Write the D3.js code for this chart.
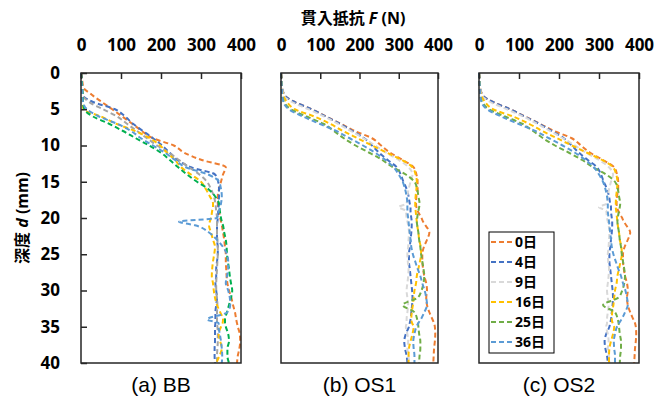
<!DOCTYPE html>
<html>
<head>
<meta charset="utf-8">
<script src="https://cdn.jsdelivr.net/npm/d3@7"></script>
<style>
  body { margin: 0; background: #fff; }
  text { font-family: "Noto Sans", "Noto Sans CJK JP", sans-serif; }
</style>
</head>
<body>
<div id="chart"></div>
<script>
// depth grid (mm), shared by every series
const depth = [0, 1, 2, 3, 4, 5, 6, 7, 8, 9, 10, 11, 12, 13, 14, 15, 16, 17, 18, 18.5, 19, 20, 20.5,
  21, 22, 23, 24, 25, 26, 27, 28, 29, 30, 31, 32, 33, 34, 34.5, 35, 36, 37, 38, 39, 40];

const seriesNames = ["0日", "4日", "9日", "16日", "25日", "36日"];
const fTicks = [0, 100, 200, 300, 400];
const dTicks = [0, 5, 10, 15, 20, 25, 30, 35, 40];

// (a) BB : penetration resistance F (N) at each depth
const bb0 = [0, 3, 6, 27, 52, 78, 103, 128, 152, 180, 232, 258, 302, 362, 355, 350, 345, 342, 342, 343, 345, 348, 350,
  352, 355, 358, 360, 362, 362, 363, 364, 366, 370, 376, 380, 385, 388, 390, 392, 397, 398, 396, 392, 390];
const bb4 = [0, 2, 3, 4, 30, 85, 110, 130, 155, 180, 203, 222, 242, 275, 335, 343, 345, 345, 344, 344, 343, 342, 341,
  340, 340, 340, 342, 342, 340, 338, 338, 336, 338, 340, 338, 336, 336, 336, 335, 335, 335, 334, 334, 335];
const bb9 = [0, 2, 3, 4, 20, 55, 90, 115, 140, 165, 190, 220, 245, 270, 296, 315, 325, 332, 336, 337, 338, 340, 340,
  340, 340, 341, 342, 342, 341, 340, 339, 338, 338, 340, 341, 340, 340, 340, 341, 342, 342, 341, 340, 340];
const bb16 = [0, 1, 2, 3, 4, 6, 50, 88, 135, 172, 198, 215, 235, 250, 275, 300, 312, 322, 330, 330, 328, 325, 322,
  320, 325, 330, 335, 333, 330, 328, 327, 330, 332, 335, 340, 348, 355, 354, 350, 344, 348, 352, 346, 338];
const bb25 = [0, 2, 3, 4, 5, 8, 30, 70, 105, 137, 170, 200, 222, 243, 265, 290, 318, 335, 345, 346, 347, 350, 352,
  355, 358, 362, 364, 365, 367, 370, 372, 375, 378, 375, 370, 365, 360, 360, 362, 368, 370, 366, 366, 370];
const bb36 = [0, 1, 2, 3, 5, 15, 45, 90, 125, 150, 180, 210, 235, 262, 318, 345, 350, 352, 350, 348, 345, 340, 245,
  285, 320, 340, 355, 365, 368, 368, 365, 362, 368, 372, 373, 366, 315, 344, 344, 347, 350, 352, 353, 352];

// (b) OS1 and (c) OS2 : the two panels show the same curves
const os0 = [0, 1, 3, 8, 35, 78, 115, 152, 188, 232, 255, 278, 310, 338, 345, 348, 348, 345, 344, 345, 348, 358, 362,
  368, 378, 372, 364, 360, 360, 362, 365, 370, 372, 370, 372, 378, 386, 390, 392, 393, 392, 390, 389, 388];
const os4 = [0, 1, 3, 8, 35, 78, 114, 150, 182, 212, 232, 250, 272, 295, 305, 312, 320, 325, 328, 330, 330, 332, 333,
  333, 332, 330, 328, 326, 326, 328, 330, 332, 334, 335, 334, 332, 330, 328, 326, 318, 314, 316, 320, 322];
const os9 = [0, 1, 3, 6, 28, 70, 110, 145, 178, 210, 240, 268, 300, 325, 335, 330, 325, 322, 320, 300, 318, 320, 322,
  324, 326, 325, 324, 322, 323, 325, 324, 322, 320, 322, 324, 322, 320, 320, 318, 322, 324, 322, 325, 326];
const os16 = [0, 1, 2, 5, 15, 35, 85, 125, 158, 195, 232, 270, 308, 335, 343, 346, 345, 343, 342, 342, 343, 345, 346,
  347, 350, 352, 356, 357, 354, 350, 346, 344, 340, 338, 336, 333, 332, 334, 338, 335, 330, 326, 325, 325];
const os25 = [0, 1, 2, 3, 8, 25, 65, 108, 135, 160, 190, 225, 258, 285, 318, 340, 347, 350, 353, 352, 350, 347, 346,
  347, 350, 352, 355, 357, 360, 363, 365, 363, 358, 348, 310, 340, 347, 349, 350, 352, 355, 355, 353, 352];
const os36 = [0, 1, 2, 3, 6, 20, 56, 98, 141, 175, 209, 240, 266, 287, 300, 310, 316, 320, 322, 322, 322, 324, 325,
  326, 328, 330, 332, 336, 342, 348, 355, 360, 366, 370, 372, 365, 356, 350, 345, 340, 337, 338, 340, 340];

const colors = ["#ED7D31", "#4472C4", "#D9D9D9", "#FFC000", "#70AD47", "#5B9BD5"];
const colorsBB = ["#ED7D31", "#4472C4", "#A5A5A5", "#FFC000", "#00B050", "#5B9BD5"];

const panels = [
  { label: "(a) BB", left: 81, right: 241, series: [bb0, bb4, bb9, bb16, bb25, bb36], colors: colorsBB, yAxis: true },
  { label: "(b) OS1", left: 281, right: 438, series: [os0, os4, os9, os16, os25, os36], colors: colors },
  { label: "(c) OS2", left: 479, right: 639, series: [os0, os4, os9, os16, os25, os36], colors: colors, legend: true }
];

const svg = d3.select("#chart").append("svg")
  .attr("width", 670)
  .attr("height", 400);

const y = d3.scaleLinear().domain([0, 40]).range([73, 363]);

panels.forEach(function(p) {
  const x = d3.scaleLinear().domain([0, 400]).range([p.left, p.right]);
  const g = svg.append("g");

  const line = d3.line()
    .x(d => x(d[0]))
    .y(d => y(d[1]))
    .curve(d3.curveMonotoneY);

  p.series.forEach(function(vals, i) {
    g.append("path")
      .datum(depth.map((d, j) => [vals[j], d]))
      .attr("d", line)
      .attr("fill", "none")
      .attr("stroke", p.colors[i])
      .attr("stroke-width", 2)
      .attr("stroke-dasharray", "5,3");
  });

  g.append("rect")
    .attr("x", p.left)
    .attr("y", y(0))
    .attr("width", p.right - p.left)
    .attr("height", y(40) - y(0))
    .attr("fill", "none")
    .attr("stroke", "#262626")
    .attr("stroke-width", 1.5);

  const top = g.append("g")
    .attr("transform", `translate(0, ${y(0)})`)
    .call(d3.axisTop(x).tickValues(fTicks).tickSize(-6).tickPadding(22));
  top.select(".domain").remove();
  top.selectAll("line").attr("stroke", "#262626").attr("stroke-width", 1.5);
  top.selectAll("text")
    .attr("font-size", "17px")
    .attr("font-weight", "bold")
    .attr("fill", "#000")
    .style("font-family", "'Noto Sans', sans-serif");

  if (p.yAxis) {
    const left = g.append("g")
      .attr("transform", `translate(${p.left}, 0)`)
      .call(d3.axisLeft(y).tickValues(dTicks).tickSize(-6).tickPadding(21));
    left.select(".domain").remove();
    left.selectAll("line").attr("stroke", "#262626").attr("stroke-width", 1.5);
    left.selectAll("text")
      .attr("font-size", "17px")
      .attr("font-weight", "bold")
      .attr("fill", "#000")
      .style("font-family", "'Noto Sans', sans-serif");
  }

  svg.append("text")
    .attr("x", (p.left + p.right) / 2)
    .attr("y", 392)
    .attr("text-anchor", "middle")
    .attr("font-size", "21px")
    .style("font-family", "'Liberation Sans', Arial, sans-serif")
    .text(p.label);

  if (p.legend) {
    const lg = svg.append("g");
    lg.append("rect")
      .attr("x", 489).attr("y", 232)
      .attr("width", 65).attr("height", 121)
      .attr("fill", "#fff")
      .attr("stroke", "#000")
      .attr("stroke-width", 1);
    seriesNames.forEach(function(name, i) {
      const ly = 242 + i * 20;
      lg.append("line")
        .attr("x1", 491).attr("x2", 513)
        .attr("y1", ly).attr("y2", ly)
        .attr("stroke", p.colors[i])
        .attr("stroke-width", 2)
        .attr("stroke-dasharray", "5,3");
      lg.append("text")
        .attr("x", 515).attr("y", ly)
        .attr("dy", "0.36em")
        .attr("font-size", "14px")
        .attr("font-weight", "bold")
        .text(name);
    });
  }
});

// axis titles
const title = svg.append("text")
  .attr("x", 353)
  .attr("y", 24)
  .attr("text-anchor", "middle")
  .attr("font-size", "16px")
  .attr("font-weight", "bold");
title.append("tspan").text("貫入抵抗 ");
title.append("tspan").attr("font-style", "italic").text("F");
title.append("tspan").text(" (N)");

const ytitle = svg.append("text")
  .attr("transform", "translate(28, 218) rotate(-90)")
  .attr("text-anchor", "middle")
  .attr("font-size", "16px")
  .attr("font-weight", "bold");
ytitle.append("tspan").text("深度 ");
ytitle.append("tspan").attr("font-style", "italic").text("d");
ytitle.append("tspan").text(" (mm)");
</script>
</body>
</html>
